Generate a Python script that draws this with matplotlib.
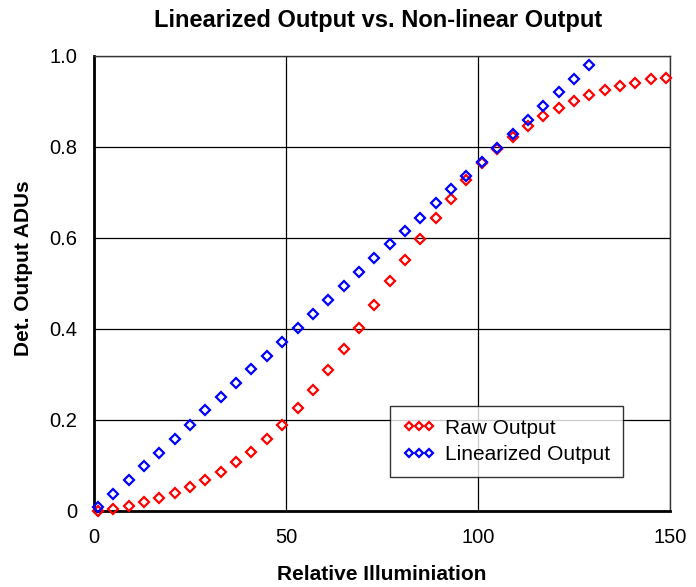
import matplotlib
matplotlib.use("Agg")
import matplotlib.pyplot as plt
import numpy as np

# relative illumination values (every 4 units)
illum_raw = list(range(1, 150, 4))
illum_lin = list(range(1, 130, 4))

raw_output = [0.0, 0.005, 0.011, 0.020, 0.028, 0.040, 0.053, 0.068, 0.085, 0.108,
              0.130, 0.158, 0.190, 0.227, 0.267, 0.309, 0.355, 0.403, 0.452, 0.505,
              0.551, 0.598, 0.645, 0.686, 0.727, 0.765, 0.795, 0.823, 0.846, 0.869,
              0.886, 0.900, 0.915, 0.926, 0.935, 0.941, 0.949, 0.952]

lin_output = [0.009, 0.037, 0.068, 0.099, 0.128, 0.158, 0.190, 0.221, 0.250, 0.281,
              0.312, 0.340, 0.372, 0.403, 0.432, 0.463, 0.495, 0.526, 0.555, 0.586,
              0.616, 0.645, 0.676, 0.708, 0.737, 0.768, 0.798, 0.829, 0.859, 0.890,
              0.921, 0.949, 0.980]

plt.rcParams['font.family'] = ['Liberation Sans', 'DejaVu Sans']

fig = plt.figure(figsize=(6.96, 5.87), dpi=100)
ax = fig.add_axes([0.1351, 0.1295, 0.8275, 0.7751])

ax.plot(illum_raw, raw_output, linestyle='none', marker='D', markersize=5,
        markerfacecolor='none', markeredgecolor='#ff0000', markeredgewidth=1.6,
        label='Raw Output', zorder=3, clip_on=False)
ax.plot(illum_lin, lin_output, linestyle='none', marker='D', markersize=5,
        markerfacecolor='none', markeredgecolor='#0000ff', markeredgewidth=1.6,
        label='Linearized Output', zorder=3, clip_on=False)

ax.set_xlim(0, 150)
ax.set_ylim(0, 1.0)
ax.set_xticks([0, 50, 100, 150])
ax.set_yticks([0, 0.2, 0.4, 0.6, 0.8, 1.0])
ax.set_yticklabels(['0', '0.2', '0.4', '0.6', '0.8', '1.0'])
ax.tick_params(axis='both', length=0, labelsize=14.5)
ax.tick_params(axis='y', pad=12)
ax.tick_params(axis='x', pad=12.5)
ax.grid(True, color='black', linewidth=0.9)
ax.set_axisbelow(True)

for side in ['left', 'bottom']:
    ax.spines[side].set_linewidth(2)
    ax.spines[side].set_color('black')
for side in ['top', 'right']:
    ax.spines[side].set_linewidth(1)
    ax.spines[side].set_color('#333333')

ax.set_title('Linearized Output vs. Non-linear Output', fontsize=17,
             fontweight='bold', pad=21, x=0.493)
ax.set_xlabel('Relative Illuminiation', fontsize=15, fontweight='bold', labelpad=13)
ax.set_ylabel('Det. Output ADUs', fontsize=15, fontweight='bold', labelpad=12, y=0.534)

leg = ax.legend(loc='lower left', bbox_to_anchor=(0.514, 0.0747), numpoints=3,
                fontsize=15, frameon=True, fancybox=False, handlelength=1.56,
                handletextpad=0.5, borderpad=0.6, labelspacing=0.37,
                borderaxespad=0, markerscale=0.85)
leg.get_frame().set_edgecolor('black')
leg.get_frame().set_linewidth(1)

fig.savefig('out.png', dpi=100)
